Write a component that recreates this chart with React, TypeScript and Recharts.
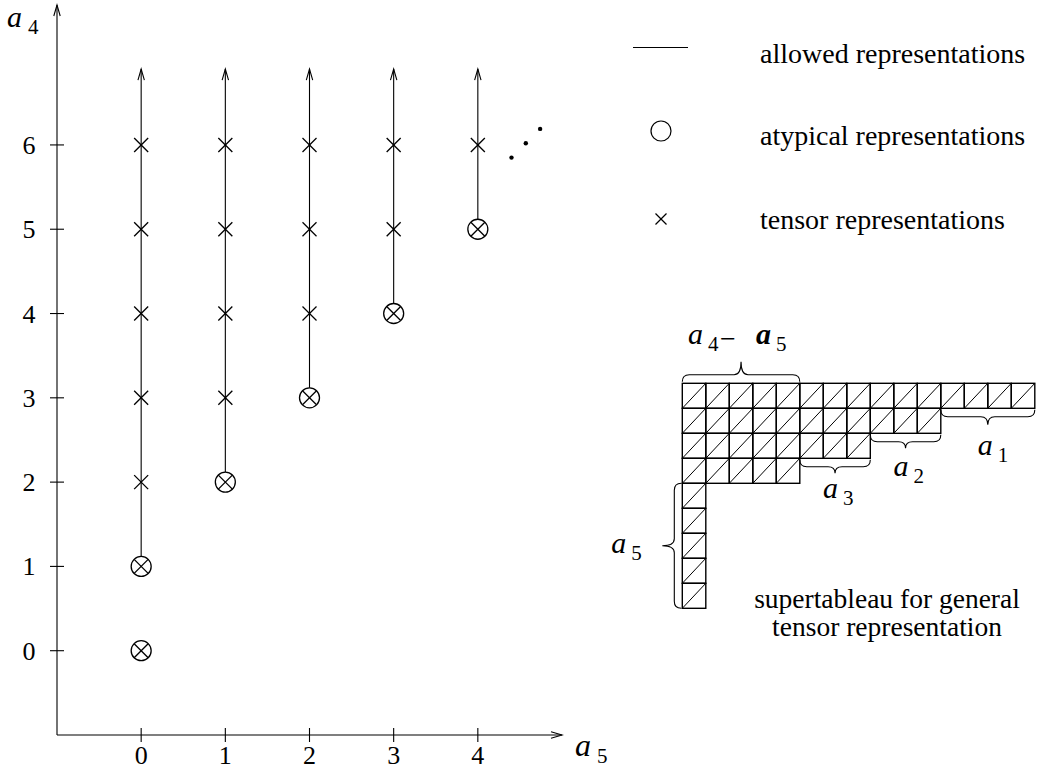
import React from "react";
import { ScatterChart, Scatter, XAxis, YAxis, ReferenceLine } from "recharts";

const FONT = "'Liberation Serif', 'Times New Roman', Times, serif";
const INK = "#000";

// main diagram: a5 across, a4 up
const X_TICKS = [0, 1, 2, 3, 4];
const Y_TICKS = [0, 1, 2, 3, 4, 5, 6];
const X_DOMAIN = [-1, 5];
const Y_DOMAIN = [-1, 7.66];

// each allowed column starts at its lowest a4 and runs on upward
const ALLOWED = [
  { a5: 0, from: 1 },
  { a5: 1, from: 2 },
  { a5: 2, from: 3 },
  { a5: 3, from: 4 },
  { a5: 4, from: 5 },
];
const ARROW_TOP = 6.9;

const ATYPICAL = [
  { a5: 0, a4: 0 },
  { a5: 0, a4: 1 },
  { a5: 1, a4: 2 },
  { a5: 2, a4: 3 },
  { a5: 3, a4: 4 },
  { a5: 4, a4: 5 },
];

const TENSOR = [
  { a5: 0, a4: 2 }, { a5: 0, a4: 3 }, { a5: 0, a4: 4 }, { a5: 0, a4: 5 }, { a5: 0, a4: 6 },
  { a5: 1, a4: 3 }, { a5: 1, a4: 4 }, { a5: 1, a4: 5 }, { a5: 1, a4: 6 },
  { a5: 2, a4: 4 }, { a5: 2, a4: 5 }, { a5: 2, a4: 6 },
  { a5: 3, a4: 5 }, { a5: 3, a4: 6 },
  { a5: 4, a4: 6 },
];

const ELLIPSIS = [
  { a5: 4.4, a4: 5.85 },
  { a5: 4.57, a4: 6.02 },
  { a5: 4.74, a4: 6.19 },
];

// supertableau: boxes per row, top to bottom
const ROW_LENGTHS = [15, 11, 8, 5, 1, 1, 1, 1, 1];
const TAB_COLS = 15;
const TAB_ROWS = 9;

const BRACES = [
  { id: "a45", from: { x: 0, y: 0 }, to: { x: 5, y: 0 }, side: "up", sub: "4" },
  { id: "a1", from: { x: 11, y: 1 }, to: { x: 15, y: 1 }, side: "down", sub: "1" },
  { id: "a2", from: { x: 8, y: 2 }, to: { x: 11, y: 2 }, side: "down", sub: "2" },
  { id: "a3", from: { x: 5, y: 3 }, to: { x: 8, y: 3 }, side: "down", sub: "3" },
  { id: "a5", from: { x: 0, y: 4 }, to: { x: 0, y: 9 }, side: "left", sub: "5" },
];

const LEGEND = ["allowed representations", "atypical representations", "tensor representations"];
const CAPTION = ["supertableau for general", "tensor representation"];

const CELLS = ROW_LENGTHS.flatMap((len, r) =>
  Array.from({ length: len }, (_, c) => ({ col: c + 0.5, row: r + 0.5 }))
);

// styling for the tableau marks
const CELL_W = 23.5;
const CELL_H = 25;
const BRACE_DEPTH: Record<string, number> = { a45: 20, a1: 15, a2: 13.5, a3: 13.5, a5: 19 };
const LABEL_AT: Record<string, [number, number]> = {
  a45: [-53, -18],
  a1: [-10, 30],
  a2: [-12, 28],
  a3: [-12, 25],
  a5: [-51, 7],
};

function Sym({ x, y, sub, size = 30, subSize = 21, gap = 20, bold = false }: any) {
  return (
    <g fontFamily={FONT}>
      <text x={x} y={y} fontSize={size} fontStyle="italic" fontWeight={bold ? "bold" : "normal"}>a</text>
      <text x={x + gap} y={y + 7} fontSize={subSize}>{sub}</text>
    </g>
  );
}

function Arrow(props: any) {
  const { x1, y1, x2, y2 } = props;
  const ang = Math.atan2(y2 - y1, x2 - x1);
  const len = 11;
  const w = 3.2;
  const bx = x2 - len * Math.cos(ang);
  const by = y2 - len * Math.sin(ang);
  const px = -Math.sin(ang) * w;
  const py = Math.cos(ang) * w;
  return (
    <g>
      <line x1={x1} y1={y1} x2={x2} y2={y2} stroke={INK} strokeWidth={1.1} />
      <polyline
        points={`${bx + px},${by + py} ${x2},${y2} ${bx - px},${by - py}`}
        fill="none"
        stroke={INK}
        strokeWidth={1.1}
      />
    </g>
  );
}

function Cross({ cx, cy }: any) {
  const s = 7;
  return (
    <g stroke={INK} strokeWidth={1.3}>
      <line x1={cx - s} y1={cy - s} x2={cx + s} y2={cy + s} />
      <line x1={cx - s} y1={cy + s} x2={cx + s} y2={cy - s} />
    </g>
  );
}

function CircleCross({ cx, cy }: any) {
  const r = 10;
  const s = 7;
  return (
    <g stroke={INK} strokeWidth={1.3}>
      <circle cx={cx} cy={cy} r={r} fill="#fff" />
      <line x1={cx - s} y1={cy - s} x2={cx + s} y2={cy + s} />
      <line x1={cx - s} y1={cy + s} x2={cx + s} y2={cy - s} />
    </g>
  );
}

function Dot({ cx, cy }: any) {
  return <circle cx={cx} cy={cy} r={2.2} fill={INK} />;
}

function YTick({ x, y, payload }: any) {
  return (
    <g>
      <line x1={x - 7} x2={x + 7} y1={y} y2={y} stroke={INK} strokeWidth={1.1} />
      <text x={x - 28} y={y + 9} textAnchor="middle" fontFamily={FONT} fontSize={26}>
        {payload.value}
      </text>
    </g>
  );
}

function XTick({ x, y, payload }: any) {
  return (
    <g>
      <line x1={x} x2={x} y1={y - 7} y2={y + 7} stroke={INK} strokeWidth={1.1} />
      <text x={x} y={y + 29} textAnchor="middle" fontFamily={FONT} fontSize={26}>
        {payload.value}
      </text>
    </g>
  );
}

function Cell({ cx, cy }: any) {
  const l = cx - CELL_W / 2;
  const t = cy - CELL_H / 2;
  return (
    <g stroke={INK} fill="none">
      <rect x={l} y={t} width={CELL_W} height={CELL_H} strokeWidth={1.4} />
      <line x1={l} y1={t + CELL_H} x2={l + CELL_W} y2={t} strokeWidth={1} />
    </g>
  );
}

function bracePath(x1: number, y1: number, x2: number, y2: number, side: string, depth: number) {
  const c = 7;
  const r = 7;
  if (side === "left") {
    const ya = Math.min(y1, y2);
    const yb = Math.max(y1, y2);
    const mid = (ya + yb) / 2;
    const x0 = x1 - 1;
    const xc = x0 - c;
    return `M${x0},${ya} Q${xc},${ya} ${xc},${ya + r} L${xc},${mid - r} Q${xc},${mid} ${x0 - depth},${mid} ` +
      `Q${xc},${mid} ${xc},${mid + r} L${xc},${yb - r} Q${xc},${yb} ${x0},${yb}`;
  }
  const s = side === "up" ? -1 : 1;
  const xa = Math.min(x1, x2);
  const xb = Math.max(x1, x2);
  const mid = (xa + xb) / 2;
  const y0 = y1 + s * 1.5;
  const yc = y0 + s * c;
  return `M${xa},${y0} Q${xa},${yc} ${xa + r},${yc} L${mid - r},${yc} Q${mid},${yc} ${mid},${y0 + s * depth} ` +
    `Q${mid},${yc} ${mid + r},${yc} L${xb - r},${yc} Q${xb},${yc} ${xb},${y0}`;
}

function braceShape(b: any) {
  return (props: any) => {
    const { x1, y1, x2, y2 } = props;
    const depth = BRACE_DEPTH[b.id];
    const [dx, dy] = LABEL_AT[b.id];
    let tipX: number;
    let tipY: number;
    if (b.side === "left") {
      tipX = x1 - 1 - depth;
      tipY = (y1 + y2) / 2;
    } else {
      const s = b.side === "up" ? -1 : 1;
      tipX = (x1 + x2) / 2;
      tipY = y1 + s * (1.5 + depth);
    }
    const lx = tipX + dx;
    const ly = tipY + dy;
    return (
      <g>
        <path d={bracePath(x1, y1, x2, y2, b.side, depth)} fill="none" stroke={INK} strokeWidth={1.1} />
        <Sym x={lx} y={ly} sub={b.sub} />
        {b.id === "a45" && (
          <g>
            <text x={lx + 32} y={ly + 4} fontFamily={FONT} fontSize={28}>−</text>
            <Sym x={lx + 68} y={ly} sub="5" bold />
          </g>
        )}
      </g>
    );
  };
}

export default function App() {
  return (
    <div style={{ position: "absolute", left: 0, top: 0, width: 1037, height: 771, background: "#fff" }}>
      <div style={{ position: "absolute", left: 0, top: 0 }}>
        <ScatterChart width={1037} height={771} margin={{ top: 5, right: 475, bottom: 0, left: 0 }}>
          <XAxis
            type="number"
            dataKey="a5"
            domain={X_DOMAIN}
            ticks={X_TICKS}
            interval={0}
            height={36}
            axisLine={false}
            tickLine={false}
            tickSize={0}
            tickMargin={0}
            tick={<XTick />}
          />
          <YAxis
            type="number"
            dataKey="a4"
            domain={Y_DOMAIN}
            ticks={Y_TICKS}
            interval={0}
            width={57}
            axisLine={false}
            tickLine={false}
            tickSize={0}
            tickMargin={0}
            tick={<YTick />}
          />
          <ReferenceLine
            segment={[{ x: X_DOMAIN[0], y: Y_DOMAIN[0] }, { x: X_DOMAIN[1], y: Y_DOMAIN[0] }]}
            ifOverflow="visible"
            shape={Arrow}
          />
          <ReferenceLine
            segment={[{ x: X_DOMAIN[0], y: Y_DOMAIN[0] }, { x: X_DOMAIN[0], y: Y_DOMAIN[1] }]}
            ifOverflow="visible"
            shape={Arrow}
          />
          {ALLOWED.map((c) => (
            <ReferenceLine
              key={c.a5}
              segment={[{ x: c.a5, y: c.from }, { x: c.a5, y: ARROW_TOP }]}
              ifOverflow="visible"
              shape={Arrow}
            />
          ))}
          <Scatter name="tensor" data={TENSOR} shape={Cross} isAnimationActive={false} />
          <Scatter name="atypical" data={ATYPICAL} shape={CircleCross} isAnimationActive={false} />
          <Scatter name="more" data={ELLIPSIS} shape={Dot} isAnimationActive={false} />
        </ScatterChart>
      </div>

      <svg
        width={1037}
        height={771}
        style={{ position: "absolute", left: 0, top: 0, pointerEvents: "none" }}
      >
        <Sym x={7} y={27} sub="4" size={30} subSize={21} gap={21} />
        <Sym x={575} y={756} sub="5" size={32} subSize={21} gap={22} />

        <line x1={633} x2={688} y1={47.5} y2={47.5} stroke={INK} strokeWidth={1.1} />
        <circle cx={661} cy={131} r={10} fill="none" stroke={INK} strokeWidth={1.2} />
        <g stroke={INK} strokeWidth={1.2}>
          <line x1={655.5} y1={213.5} x2={666.5} y2={224.5} />
          <line x1={655.5} y1={224.5} x2={666.5} y2={213.5} />
        </g>
        {LEGEND.map((t, i) => (
          <text key={t} x={760} y={[63, 145, 229][i]} fontFamily={FONT} fontSize={28}>
            {t}
          </text>
        ))}
        {CAPTION.map((t, i) => (
          <text key={t} x={887} y={[608, 636][i]} textAnchor="middle" fontFamily={FONT} fontSize={27.5}>
            {t}
          </text>
        ))}
      </svg>

      <div style={{ position: "absolute", left: 600, top: 290 }}>
        <ScatterChart width={437} height={350} margin={{ top: 93.3, right: 2.2, bottom: 31.7, left: 82.3 }}>
          <XAxis type="number" dataKey="col" domain={[0, TAB_COLS]} hide />
          <YAxis type="number" dataKey="row" domain={[0, TAB_ROWS]} reversed hide />
          <Scatter name="boxes" data={CELLS} shape={Cell} isAnimationActive={false} />
          {BRACES.map((b) => (
            <ReferenceLine key={b.id} segment={[b.from, b.to]} ifOverflow="visible" shape={braceShape(b)} />
          ))}
        </ScatterChart>
      </div>
    </div>
  );
}
